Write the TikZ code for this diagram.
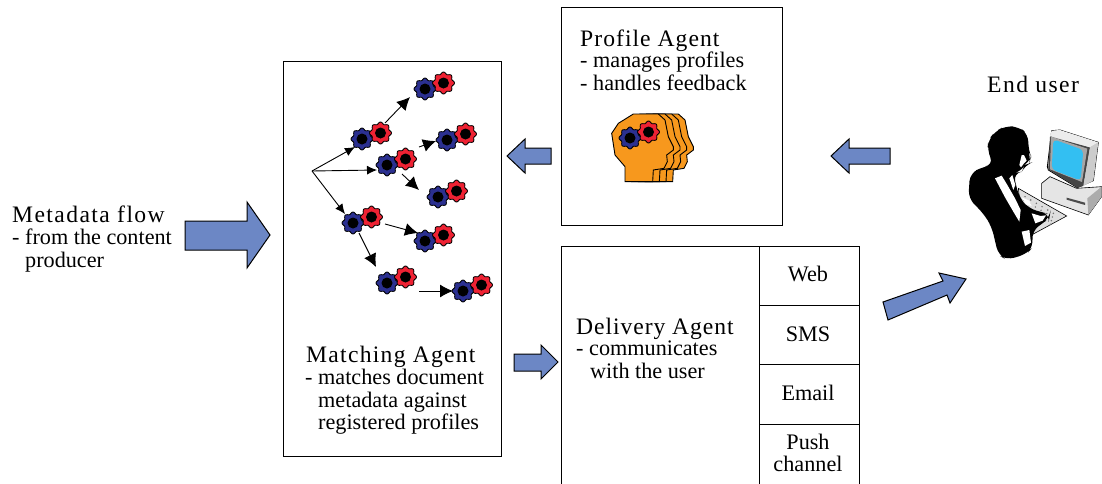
\documentclass[tikz,border=0pt]{standalone}
\usepackage{fontspec}
\setmainfont{Liberation Serif}
\usetikzlibrary{arrows.meta}
\newcommand{\ttl}[1]{\fontsize{23.6pt}{24pt}\selectfont\addfontfeature{LetterSpace=#1}}
\newcommand{\bdy}{\fontsize{22.2pt}{22.6pt}\selectfont}
\definecolor{flowblue}{HTML}{6C87C5}
\definecolor{gearblue}{HTML}{2B3090}
\definecolor{gearred}{HTML}{EE2233}
\definecolor{headorange}{HTML}{F7981D}
\definecolor{screencyan}{HTML}{33BFF2}
\tikzset{
  x=1pt,y=-1pt,
  box/.style={draw=black,line width=1pt},
  blockarrow/.style={draw=black,line width=1pt,fill=flowblue},
  thin arrow/.style={draw=black,line width=.9pt,-{Latex[length=10pt,width=9pt]}},
  big arrow/.style={draw=black,line width=.9pt,-{Latex[length=13pt,width=13pt]}},
  titletext/.style={anchor=base west,inner sep=0pt,font=\ttl{#1}},
  titletext/.default=6,
  bodytext/.style={anchor=north west,inner sep=0pt,align=left,font=\bdy},
  celltext/.style={align=center,inner sep=0pt,font=\bdy},
  gearshape/.pic={
    \draw[fill=#1,line width=.9pt] plot[domain=0:360,samples=65] (\x:{10+1*cos(8*\x)}) -- cycle;
    \fill[black] (0,0) circle (5.5);
  },
  gearpair/.pic={
    \pic at (0,0) {gearshape=gearblue};
    \pic at (18.5,-6) {gearshape=gearred};
  },
}
\begin{document}
\begin{tikzpicture}
\useasboundingbox (0,0) rectangle (1102,483);
\fill[white] (0,0) rectangle (1102,483);
% boxes
\node[box,minimum width=218pt,minimum height=395pt,anchor=north west,inner sep=0pt] (matchbox) at (283,61) {};
\node[box,minimum width=221pt,minimum height=218pt,anchor=north west,inner sep=0pt] (profilebox) at (561,7) {};
\draw[box] (561,490) -- (561,246) -- (859,246) -- (859,490);
\draw[box] (759,246) -- (759,490);
\draw[box] (759,305) -- (859,305);
\draw[box] (759,364) -- (859,364);
\draw[box] (759,424) -- (859,424);
% left text
\node[titletext] (mflow) at (12,222) {Metadata flow};
\node[bodytext] (mflowb) at (12,229) {- from the content\\\hspace{13pt}producer};
\node[titletext=4.4] (pa) at (580,46) {Profile Agent};
\node[bodytext] (pab) at (580,52) {- manages profiles\\- handles feedback};
\node[titletext=5.4] (ma) at (306,362) {Matching Agent};
\node[bodytext] (mab) at (305,369) {- matches document\\\hspace{13pt}metadata against\\\hspace{13pt}registered profiles};
\node[titletext=4] (da) at (576,334) {Delivery Agent};
\node[bodytext] (dab) at (576,341) {- communicates\\\hspace{14pt}with the user};
\node[titletext] (eu) at (987,92) {End user};
\node[celltext] (web) at (808,274) {Web};
\node[celltext] (sms) at (808,334) {SMS};
\node[celltext] (email) at (808,393) {Email};
\node[celltext] (push) at (808,453) {Push\\channel};
% block arrows
\draw[blockarrow] (185,221) -- (247,221) -- (247,202) -- (270,235) -- (247,268) -- (247,250) -- (185,250) -- cycle;
\draw[blockarrow] (551,148) -- (525,148) -- (525,139) -- (507,156) -- (525,173) -- (525,164) -- (551,164) -- cycle;
\draw[blockarrow] (890,148) -- (849,148) -- (849,139) -- (831,156) -- (849,173) -- (849,164) -- (890,164) -- cycle;
\draw[blockarrow] (514,354) -- (541,354) -- (541,345) -- (558,362) -- (541,379) -- (541,371) -- (514,371) -- cycle;
\draw[blockarrow] (883,302) -- (943,281) -- (939,273) -- (966,279) -- (950,303) -- (947,295) -- (888,320) -- cycle;
% gears
\foreach \x/\y in {425/89,362/139,387/165,447/140,438/197,353/223,425/241,387/283,463/291}
  \pic at (\x,\y) {gearpair};
% thin arrows
\coordinate (hub) at (312,171);
\coordinate (a1) at (355,147);
\coordinate (a2) at (377,170);
\coordinate (a3) at (345,214);
\coordinate (b1s) at (385,123); \coordinate (b1e) at (410,97);
\coordinate (b2s) at (419,147); \coordinate (b2e) at (436,141);
\coordinate (b3s) at (402,174); \coordinate (b3e) at (419,190);
\coordinate (b4s) at (385,224); \coordinate (b4e) at (418,233);
\coordinate (b5s) at (359,233); \coordinate (b5e) at (376,267);
\coordinate (b6s) at (419,291); \coordinate (b6e) at (453,291);
\draw[thin arrow] (hub) -- (a1);
\draw[thin arrow] (hub) -- (a2);
\draw[thin arrow] (hub) -- (a3);
\foreach \n in {1,...,6} \draw[big arrow] (b\n s) -- (b\n e);
% heads
\begin{scope}[shift={(590,100)},x=.3333pt,y=-.3333pt]
\foreach \d in {60,40,20,0}
  \draw[fill=headorange,line width=.9pt,shift={(\d,0)}] (105,245) -- (105,200) -- (75,165) -- (65,100) -- (85,70) -- (130,42) -- (205,42) -- (225,60) -- (235,110) -- (250,140) -- (250,150) -- (230,165) -- (232,185) -- (222,205) -- (190,210) -- (188,245) -- cycle;
\end{scope}
\pic at (630,138) {gearpair};
% end user
\begin{scope}[shift={(950,110)},x=.3333pt,y=-.3333pt]
% computer base
\draw[fill=gray!20,line width=.6pt] (275,220) -- (300,200) -- (380,235) -- (455,230) -- (455,260) -- (415,315) -- (275,265) -- cycle;
\fill[gray!65] (415,315) -- (455,260) -- (455,230) -- (412,265) -- cycle;
\fill[black!70] (350,263) -- (405,278) -- (405,285) -- (350,269) -- cycle;
% monitor
\draw[fill=gray!50,line width=.8pt] (305,62) -- (330,60) -- (445,97) -- (430,212) -- (382,233) -- (295,180) -- (292,170) -- cycle;
\fill[gray!55!black] (300,80) -- (420,112) -- (400,228) -- (382,233) -- (295,178) -- cycle;
\fill[gray!70] (303,80) -- (412,116) -- (396,216) -- (300,178) -- cycle;
\fill[white!85!gray] (305,62) -- (330,60) -- (445,97) -- (420,112) -- (300,78) -- cycle;
\fill[gray!40] (420,112) -- (445,97) -- (430,212) -- (400,228) -- cycle;
\fill[screencyan,rounded corners=4pt] (310,88) -- (400,120) -- (392,212) -- (305,178) -- cycle;
% keyboard
\fill[gray!25,draw=black,line width=.6pt] (205,235) -- (350,318) -- (250,372) -- (215,325) -- cycle;
\foreach \i in {0,...,5} \foreach \j in {0,...,3}
  \fill[black!55] ({225+\i*17+\j*-3},{260+\i*10+\j*11}) circle (2.5);
% person
\fill[black,rounded corners=8pt] (135,65) -- (165,48) -- (205,50) -- (235,72) -- (235,120) -- (243,140) -- (238,160) -- (225,165) -- (215,185) -- (190,190) -- (198,225) -- (208,262) -- (235,295) -- (270,305) -- (300,313) -- (298,325) -- (270,345) -- (245,365) -- (250,410) -- (230,432) -- (170,450) -- (145,435) -- (125,350) -- (100,310) -- (55,265) -- (60,190) -- (100,170) -- (130,165) -- (112,120) -- (115,90) -- cycle;
\fill[white] (135,205) -- (155,197) -- (172,225) -- (195,265) -- (212,300) -- (208,335) -- (190,305) -- (165,262) -- cycle;
\fill[white] (215,135) -- (222,135) -- (230,152) -- (222,160) -- (213,172) -- (208,165) -- cycle;
\fill[white] (187,195) -- (196,225) -- (190,240) -- (178,205) -- cycle;
\fill[white] (215,262) -- (238,272) -- (245,288) -- (228,283) -- cycle;
\fill[white] (245,310) -- (272,318) -- (288,316) -- (278,332) -- (256,340) -- cycle;
\fill[white] (215,365) -- (238,360) -- (243,398) -- (225,408) -- cycle;
\end{scope}
\end{tikzpicture}
\end{document}
